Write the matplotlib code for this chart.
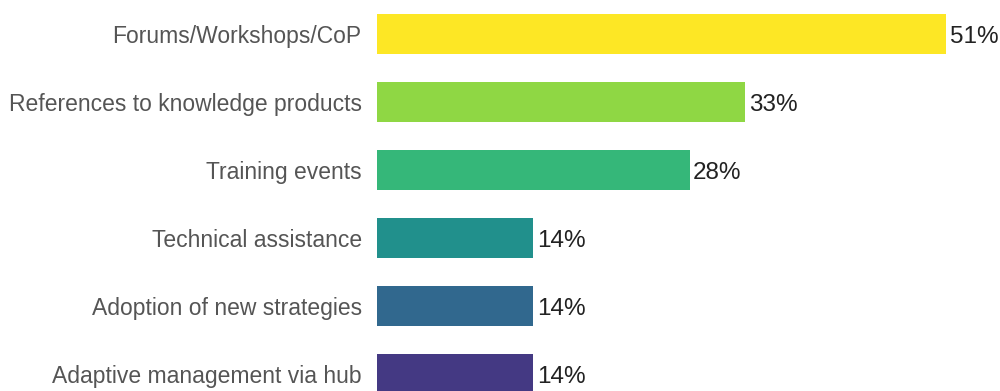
import matplotlib
matplotlib.use("Agg")
import matplotlib.pyplot as plt

categories = [
    "Adaptive management via hub",
    "Adoption of new strategies",
    "Technical assistance",
    "Training events",
    "References to knowledge products",
    "Forums/Workshops/CoP",
]
values = [14, 14, 14, 28, 33, 51]
colors = ["#443983", "#31688E", "#21908C", "#35B779", "#8FD744", "#FDE725"]

plt.rcParams["font.family"] = ["Liberation Sans", "DejaVu Sans"]

fig = plt.figure(figsize=(10, 3.91), dpi=100)
ax = fig.add_axes([0.377, 0.0, 0.623, 1.0])

ypos = list(range(len(categories)))
ax.barh(ypos, values, height=0.59, color=colors)

for y, v in zip(ypos, values):
    ax.text(v + 0.3, y - 0.04, f"{v}%", va="center", ha="left",
            fontsize=17.5, color="#222222")

ax.set_yticks(ypos)
ax.set_yticklabels(categories, fontsize=16.5, color="#555555")
for lbl in ax.get_yticklabels():
    lbl.set_y(lbl.get_position()[1])
ax.tick_params(axis="y", length=0, pad=11)
ax.set_xticks([])
ax.set_xlim(0, 55.8)
ax.set_ylim(-0.25, 5.5)
for s in ax.spines.values():
    s.set_visible(False)

fig.savefig("out.png", dpi=100)
